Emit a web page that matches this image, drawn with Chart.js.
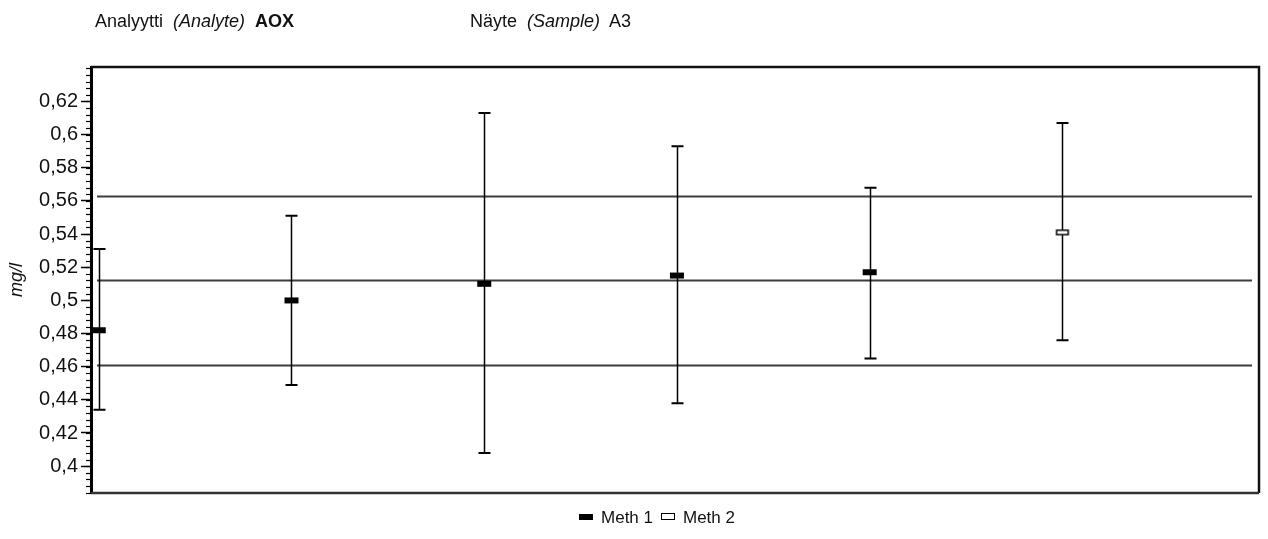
<!DOCTYPE html>
<html>
<head>
<meta charset="utf-8">
<script src="https://cdn.jsdelivr.net/npm/chart.js@4.4.1/dist/chart.umd.min.js"></script>
<style>
  html, body { margin: 0; padding: 0; background: #fff; }
  #wrap { position: relative; width: 1268px; height: 539px; font-family: "Liberation Sans", Arial, sans-serif; color: #111; }
  #chart { position: absolute; left: 0; top: 0; }
  .hdr { position: absolute; top: 11px; font-size: 18px; white-space: pre; }
  .hdr i { font-style: italic; }
  .hdr b { font-weight: bold; }
  #legend { position: absolute; top: 508px; left: 0; width: 1268px; text-align: center; font-size: 17px; padding-left: 46px; box-sizing: border-box; }
  #legend span.item { display: inline-block; margin: 0 4px; }
  .mk { display: inline-block; vertical-align: middle; margin-right: 8px; position: relative; top: -2px; }
  .mk.m1 { width: 14px; height: 6px; background: #000; }
  .mk.m2 { width: 12px; height: 5px; border: 1.5px solid #000; background: #fff; }
</style>
</head>
<body>
<div id="wrap">
  <canvas id="chart" width="1268" height="539"></canvas>
  <div class="hdr" style="left:95px">Analyytti  <i>(Analyte)</i>  <b>AOX</b></div>
  <div class="hdr" style="left:470px">Näyte  <i>(Sample)</i>  A3</div>
  <div id="legend"><span class="item"><span class="mk m1"></span>Meth 1</span><span class="item"><span class="mk m2"></span>Meth 2</span></div>
</div>
<script>
// Result positions along the x axis, one per laboratory result
const positions = [1, 2, 3, 4, 5, 6];
// Reported results (mg/l)
const results = [0.482, 0.500, 0.510, 0.515, 0.517, 0.541];
// Upper and lower ends of each result's uncertainty bar (mg/l)
const upperEnds = [0.531, 0.551, 0.613, 0.593, 0.568, 0.607];
const lowerEnds = [0.434, 0.449, 0.408, 0.438, 0.465, 0.476];
// Method used for each result (1 = Meth 1, 2 = Meth 2)
const methods = [1, 1, 1, 1, 1, 2];
// Assigned value and its acceptance limits (mg/l)
const referenceLines = [0.4608, 0.512, 0.5632];
// Labelled y ticks
const yTicks = [0.40, 0.42, 0.44, 0.46, 0.48, 0.50, 0.52, 0.54, 0.56, 0.58, 0.60, 0.62];
const yMin = 0.3838, yMax = 0.6408, minorStep = 0.004;

function markerCanvas(filled) {
  const c = document.createElement('canvas');
  c.width = 16; c.height = 8;
  const g = c.getContext('2d');
  if (filled) {
    g.fillStyle = '#000';
    g.fillRect(1, 1, 14, 6);
  } else {
    g.fillStyle = '#fff';
    g.fillRect(2, 1.5, 12, 5);
    g.strokeStyle = '#000';
    g.lineWidth = 1.5;
    g.strokeRect(2.25, 1.75, 11.5, 4.5);
  }
  return c;
}

function seriesFor(m) {
  return positions.map((x, i) => ({ x: x, y: results[i], i: i })).filter(p => methods[p.i] === m);
}

const fmt = v => String(Number(v.toFixed(2))).replace('.', ',');

const decorations = {
  id: 'decorations',
  beforeDatasetsDraw(chart) {
    const { ctx, chartArea: a, scales: { x, y } } = chart;
    ctx.save();
    // reference lines
    ctx.strokeStyle = '#3c3c3c';
    ctx.lineWidth = 2;
    referenceLines.forEach(v => {
      const py = Math.round(y.getPixelForValue(v)) + 0.5;
      ctx.beginPath();
      ctx.moveTo(a.left + 6, py);
      ctx.lineTo(a.right - 7, py);
      ctx.stroke();
    });
    // uncertainty bars
    ctx.strokeStyle = '#000';
    positions.forEach((xv, i) => {
      const px = Math.round(x.getPixelForValue(xv)) + 0.5;
      const top = y.getPixelForValue(upperEnds[i]);
      const bot = y.getPixelForValue(lowerEnds[i]);
      ctx.lineWidth = 1.5;
      ctx.beginPath();
      ctx.moveTo(px, top);
      ctx.lineTo(px, bot);
      ctx.stroke();
      ctx.lineWidth = 2;
      ctx.beginPath();
      ctx.moveTo(px - 6, top); ctx.lineTo(px + 6, top);
      ctx.moveTo(px - 6, bot); ctx.lineTo(px + 6, bot);
      ctx.stroke();
    });
    ctx.restore();
  },
  afterDraw(chart) {
    const { ctx, chartArea: a, scales: { y } } = chart;
    ctx.save();
    // minor ticks on the value axis
    ctx.strokeStyle = '#000';
    ctx.lineWidth = 1.2;
    for (let v = Math.ceil(yMin / minorStep) * minorStep; v <= yMax + 1e-9; v += minorStep) {
      const py = Math.round(y.getPixelForValue(v)) + 0.5;
      ctx.beginPath();
      ctx.moveTo(a.left - 5, py);
      ctx.lineTo(a.left, py);
      ctx.stroke();
    }
    // plot frame
    ctx.strokeStyle = '#111';
    ctx.lineWidth = 2.5;
    ctx.beginPath();
    ctx.moveTo(a.left, a.top); ctx.lineTo(a.right, a.top); ctx.lineTo(a.right, a.bottom);
    ctx.stroke();
    ctx.strokeStyle = '#333';
    ctx.beginPath();
    ctx.moveTo(a.left, a.bottom); ctx.lineTo(a.right, a.bottom);
    ctx.stroke();
    ctx.restore();
  }
};

new Chart(document.getElementById('chart'), {
  type: 'scatter',
  data: {
    datasets: [
      { label: 'Meth 1', data: seriesFor(1), pointStyle: markerCanvas(true), pointRadius: 8 },
      { label: 'Meth 2', data: seriesFor(2), pointStyle: markerCanvas(false), pointRadius: 8 }
    ]
  },
  options: {
    responsive: false,
    animation: false,
    events: [],
    layout: { padding: { top: 67, right: 9, bottom: 46, left: 0 } },
    plugins: { legend: { display: false }, tooltip: { enabled: false } },
    scales: {
      x: { type: 'linear', min: 0.96, max: 7.02, display: false },
      y: {
        min: yMin, max: yMax,
        afterBuildTicks: s => { s.ticks = yTicks.map(v => ({ value: v })); },
        afterFit: s => { s.width = 91; },
        ticks: {
          callback: v => fmt(v),
          color: '#111',
          font: { family: 'Liberation Sans', size: 20 },
          padding: 3
        },
        grid: { drawOnChartArea: false, tickLength: 10, tickColor: '#000', tickWidth: 1.5 },
        border: { color: '#000', width: 3 },
        title: {
          display: true, text: 'mg/l', color: '#111',
          font: { family: 'Liberation Sans', size: 18, style: 'italic' },
          padding: { top: 6, bottom: 0 }
        }
      }
    }
  },
  plugins: [decorations]
});
</script>
</body>
</html>
